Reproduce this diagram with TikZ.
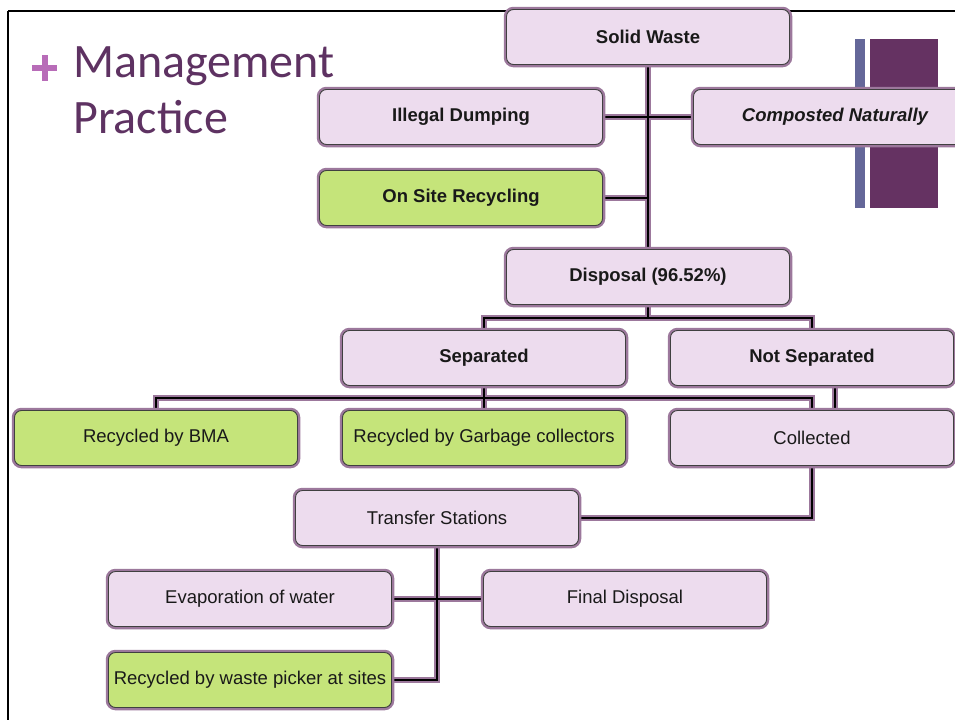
\documentclass[tikz,border=0pt]{standalone}
\usepackage{fontspec}
\setmainfont{Liberation Sans}
\newfontfamily\titlefont{Carlito}
\usetikzlibrary{backgrounds}
\definecolor{pinkfill}{HTML}{EDDCEE}
\definecolor{greenfill}{HTML}{C5E47A}
\definecolor{halo}{HTML}{9C789C}
\definecolor{titlec}{HTML}{5E3262}
\definecolor{plusc}{HTML}{B86CB8}
\definecolor{barblue}{HTML}{646799}
\definecolor{barpurple}{HTML}{653262}
\newcommand\myconnectors[1]{%
  \draw[#1] (sw.south) -- (disp.north);
  \draw[#1] (illegal.east) -- (comp.west);
  \draw[#1] (onsite.east) -- (onsite.east -| sw.south);
  \draw[#1] (disp.south) -- ++(0,14);
  \draw[#1] (sep.north) -- ++(0,-12) -| (nsep.north);
  \draw[#1] (sep.south) -- ++(0,13);
  \draw[#1] (bma.north) -- ++(0,-12) -| (col.north);
  \draw[#1] (garb.north) -- ++(0,-12);
  \draw[#1] ([xshift=23pt]nsep.south) -- ([xshift=23pt]col.north);
  \draw[#1] (col.south) |- (ts.east);
  \draw[#1] (ts.south) |- (picker.east);
  \draw[#1] (evap.east) -- (final.west);
}
\begin{document}
\begin{tikzpicture}[x=1pt,y=-1pt,
  box/.style={rounded corners=7pt, draw=black!75, line width=0.9pt,
    preaction={draw=halo, line width=5.5pt},
    minimum width=283pt, minimum height=55pt, inner sep=0pt,
    font=\fontsize{18.5}{21}\selectfont, text=black!90},
  pinkbox/.style={box, fill=pinkfill},
  greenbox/.style={box, fill=greenfill},
  haloline/.style={draw=halo, line width=6pt},
  blackline/.style={draw=black, line width=2.6pt},
  titletext/.style={anchor=base west, inner sep=0pt, text=titlec,
    font=\titlefont\fontsize{48}{56}\selectfont},
]
\useasboundingbox (0,0) rectangle (955,720);
% frame
\draw[line width=2.5pt] (8,11) -- (955,11);
\draw[line width=2pt] (8,11) -- (8,720);
% decoration
\fill[barblue] (855,39) rectangle (865,208);
\fill[barpurple] (870,39) rectangle (938,208);
% title
\fill[plusc] (32,65) rectangle (57,71);
\fill[plusc] (41.5,55) rectangle (47.5,81);
\node[titletext] (t1) at (73,77) {Management};
\node[titletext] (t2) at (73,133) {Practice};
% boxes
\node[pinkbox] (sw) at (648,37) {\bfseries Solid Waste};
\node[pinkbox] (illegal) at (461,117) {\bfseries Illegal Dumping};
\node[pinkbox] (comp) at (835,117) {\bfseries\itshape Composted Naturally};
\node[greenbox] (onsite) at (461,198) {\bfseries On Site Recycling};
\node[pinkbox] (disp) at (648,277) {\bfseries Disposal (96.52\%)};
\node[pinkbox] (sep) at (484,358) {\bfseries Separated};
\node[pinkbox] (nsep) at (812,358) {\bfseries Not Separated};
\node[greenbox] (bma) at (156,438) {Recycled by BMA};
\node[greenbox] (garb) at (484,438) {Recycled by Garbage collectors};
\node[pinkbox] (col) at (812,438) {Collected};
\node[pinkbox] (ts) at (437,518) {Transfer Stations};
\node[pinkbox] (evap) at (250,599) {Evaporation of water};
\node[pinkbox] (final) at (625,599) {Final Disposal};
\node[greenbox] (picker) at (250,680) {Recycled by waste picker at sites};
% connectors
\begin{pgfonlayer}{background}
\fill[white] (0,0) rectangle (955,720);
\myconnectors{haloline}
\myconnectors{blackline}
\end{pgfonlayer}
\end{tikzpicture}
\end{document}
